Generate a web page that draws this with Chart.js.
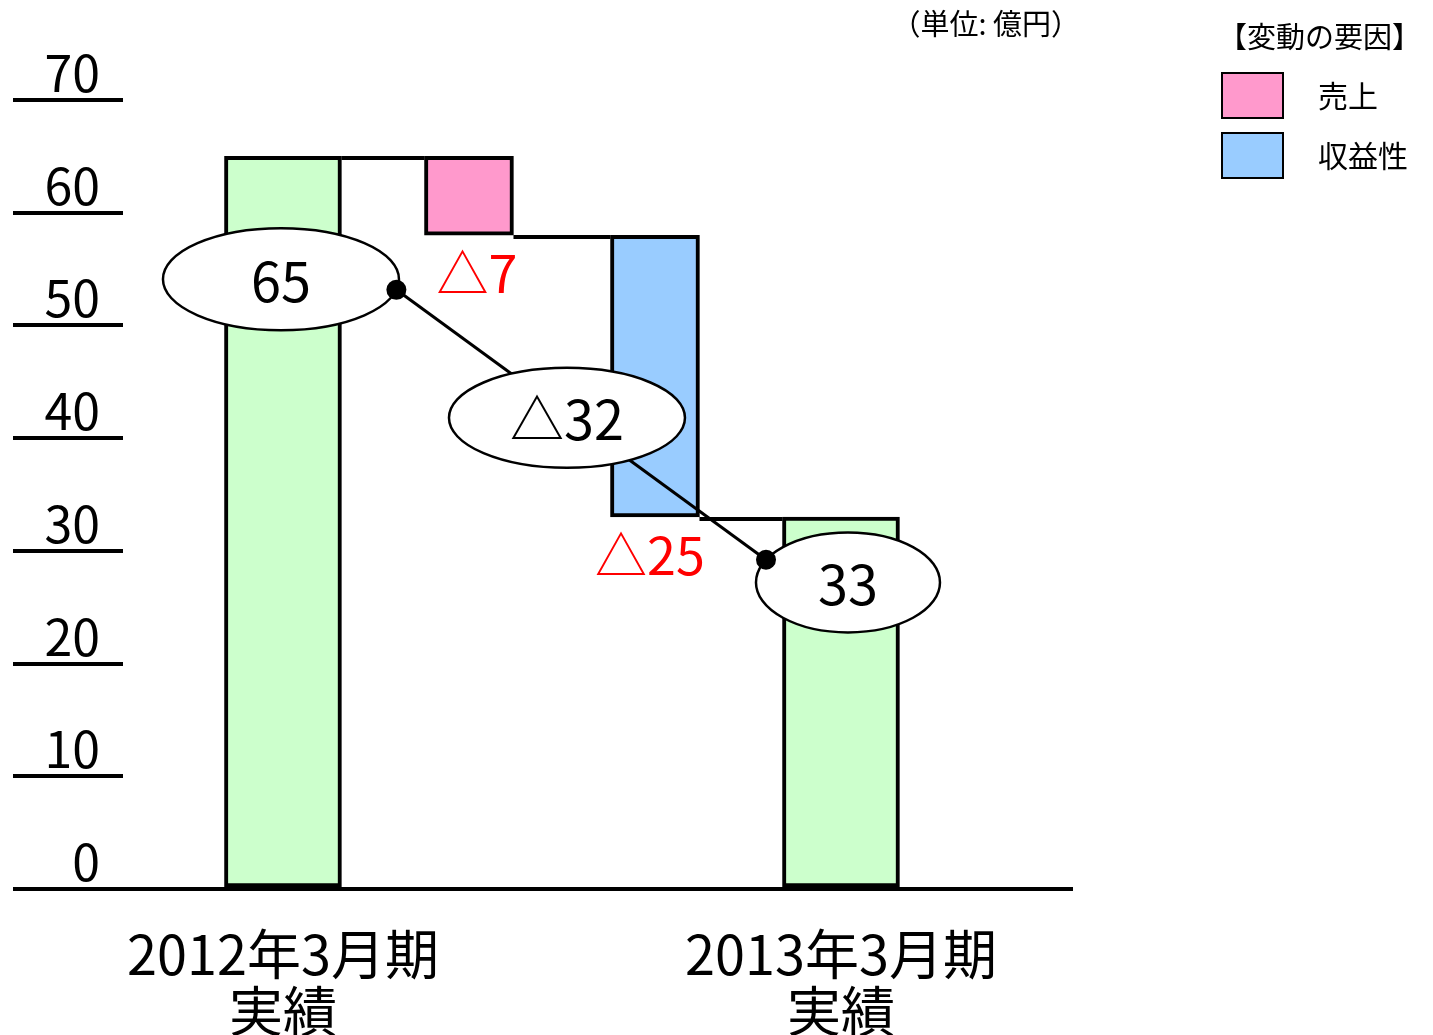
<!DOCTYPE html>
<html lang="ja">
<head>
<meta charset="utf-8">
<title>変動の要因</title>
<script src="https://cdn.jsdelivr.net/npm/chart.js@4.4.1/dist/chart.umd.min.js"></script>
<style>
  html, body { margin: 0; padding: 0; background: #fff; }
  #chart { display: block; }
</style>
</head>
<body>
<canvas id="chart" width="1433" height="1035"></canvas>
<script>
const categories = [['2012年3月期', '実績'], '売上', '収益性', ['2013年3月期', '実績']];
const resultValues = [65, 33];
const factorNames = ['売上', '収益性'];
const factorChanges = [-7, -25];
const yTicks = [0, 10, 20, 30, 40, 50, 60, 70];
const unitLabel = '（単位: 億円）';
const legendTitle = '【変動の要因】';

const resultColor = '#CCFFCC';
const factorColors = ['#FF99CC', '#99CCFF'];
const FONT = '"Noto Sans CJK JP", "Noto Sans", sans-serif';

function delta(v) {
    return v < 0 ? '△' + Math.abs(v) : String(v);
}

// floating bars: results start at 0, each factor steps down from the last level
const resultBars = [
    { x: 0, y: [0, resultValues[0]] },
    { x: 3, y: [0, resultValues[1]] }
];
let level = resultValues[0];
const levels = [level];
const factorBars = factorChanges.map(function(c, i) {
    const bar = { x: i + 1, y: [level + c, level] };
    level += c;
    levels.push(level);
    return bar;
});

const waterfallDecor = {
    id: 'waterfallDecor',
    afterDatasetsDraw(chart) {
        const ctx = chart.ctx;
        const xs = chart.scales.x;
        const ys = chart.scales.y;

        // bars in category order, for the step connectors
        const bars = [];
        chart.data.datasets.forEach(function(ds, di) {
            chart.getDatasetMeta(di).data.forEach(function(el, j) {
                bars.push({ el: el, pos: ds.data[j].x });
            });
        });
        bars.sort(function(a, b) { return a.pos - b.pos; });

        ctx.save();
        ctx.strokeStyle = '#000';
        ctx.lineWidth = 4;
        for (let i = 0; i < bars.length - 1; i++) {
            const a = bars[i].el, b = bars[i + 1].el;
            const py = Math.round(ys.getPixelForValue(levels[i])) + 2;
            ctx.beginPath();
            ctx.moveTo(a.x + a.width / 2, py);
            ctx.lineTo(b.x - b.width / 2, py);
            ctx.stroke();
        }

        // red change labels under each factor bar
        ctx.fillStyle = '#FF0000';
        ctx.font = '52px ' + FONT;
        ctx.textAlign = 'center';
        ctx.textBaseline = 'middle';
        factorBars.forEach(function(bar, i) {
            const px = xs.getPixelForValue(bar.x);
            const py = ys.getPixelForValue(bar.y[0]);
            ctx.fillText(delta(factorChanges[i]), px + (i === 0 ? 8 : -5), py + 38);
        });

        // ellipses: start, total change, end
        const total = resultValues[1] - resultValues[0];
        const bubbles = [
            { text: String(resultValues[0]), x: 0, y: 54.1, dx: -2, rx: 118, ry: 51 },
            { text: delta(total), x: 1.5, y: 41.8, dx: 5, rx: 118, ry: 50 },
            { text: String(resultValues[1]), x: 3, y: 27.2, dx: 7, rx: 92, ry: 50 }
        ].map(function(b) {
            b.cx = xs.getPixelForValue(b.x) + b.dx;
            b.cy = ys.getPixelForValue(b.y);
            return b;
        });
        function onEdge(b, deg) {
            const t = deg * Math.PI / 180;
            return [b.cx + b.rx * Math.cos(t), b.cy + b.ry * Math.sin(t)];
        }
        const p1 = onEdge(bubbles[0], 12);
        const p2 = onEdge(bubbles[2], 207);

        ctx.lineWidth = 3;
        ctx.beginPath();
        ctx.moveTo(p1[0], p1[1]);
        ctx.lineTo(p2[0], p2[1]);
        ctx.stroke();

        ctx.font = '54px ' + FONT;
        bubbles.forEach(function(b) {
            ctx.beginPath();
            ctx.ellipse(b.cx, b.cy, b.rx, b.ry, 0, 0, Math.PI * 2);
            ctx.fillStyle = '#fff';
            ctx.fill();
            ctx.lineWidth = 2.5;
            ctx.stroke();
            ctx.fillStyle = '#000';
            ctx.fillText(b.text, b.cx, b.cy + 2);
        });

        ctx.fillStyle = '#000';
        [p1, p2].forEach(function(p) {
            ctx.beginPath();
            ctx.arc(p[0], p[1], 10, 0, Math.PI * 2);
            ctx.fill();
        });
        ctx.restore();
    },
    afterDraw(chart) {
        const ctx = chart.ctx;
        const right = chart.chartArea.right;
        ctx.save();
        ctx.fillStyle = '#000';
        ctx.textBaseline = 'middle';
        ctx.font = '29px ' + FONT;

        ctx.textAlign = 'right';
        ctx.fillText(unitLabel, right + 8, 24);

        // legend for the factor bars
        const left = right + 150;
        ctx.textAlign = 'left';
        ctx.fillText(legendTitle, left - 4, 37);
        ctx.font = '30px ' + FONT;
        chart.data.datasets.slice(1).forEach(function(ds, i) {
            const top = 73 + i * 60;
            ctx.fillStyle = ds.backgroundColor;
            ctx.fillRect(left, top, 61, 45);
            ctx.lineWidth = 2;
            ctx.strokeStyle = '#000';
            ctx.strokeRect(left, top, 61, 45);
            ctx.fillStyle = '#000';
            ctx.fillText(ds.label, left + 96, top + 23);
        });
        ctx.restore();
    }
};

const barStyle = {
    borderColor: '#000',
    borderWidth: 4,
    borderSkipped: false,
    grouped: false
};

new Chart(document.getElementById('chart').getContext('2d'), {
    type: 'bar',
    data: {
        datasets: [
            Object.assign({ label: '実績', data: resultBars, backgroundColor: resultColor, barThickness: 117 }, barStyle),
            Object.assign({ label: factorNames[0], data: [factorBars[0]], backgroundColor: factorColors[0], barThickness: 89 }, barStyle),
            Object.assign({ label: factorNames[1], data: [factorBars[1]], backgroundColor: factorColors[1], barThickness: 89 }, barStyle)
        ]
    },
    options: {
        responsive: false,
        animation: false,
        layout: { padding: { left: 13, right: 361, top: 100, bottom: 0 } },
        plugins: {
            legend: { display: false },
            tooltip: { enabled: false }
        },
        scales: {
            x: {
                type: 'linear',
                offset: false,
                min: -0.86,
                max: 4.242,
                grid: { display: false, offset: false },
                border: { display: true, color: '#000', width: 4 },
                afterBuildTicks: function(s) { s.ticks = [{ value: 0 }, { value: 3 }]; },
                afterFit: function(s) { s.height = 146; },
                ticks: {
                    autoSkip: false,
                    maxRotation: 0,
                    padding: 29,
                    color: '#000',
                    font: { family: FONT, size: 54, lineHeight: 1.06 },
                    callback: function(v) { return categories[v]; }
                }
            },
            y: {
                min: 0,
                max: 70,
                afterBuildTicks: function(s) { s.ticks = yTicks.map(function(v) { return { value: v }; }); },
                afterFit: function(s) { s.width = 110; },
                grid: { drawOnChartArea: false, drawTicks: true, tickLength: 110, color: '#000', lineWidth: 4 },
                border: { display: false },
                ticks: {
                    padding: -87,
                    labelOffset: -27,
                    color: '#000',
                    font: { family: FONT, size: 50 }
                }
            }
        }
    },
    plugins: [waterfallDecor]
});
</script>
</body>
</html>
